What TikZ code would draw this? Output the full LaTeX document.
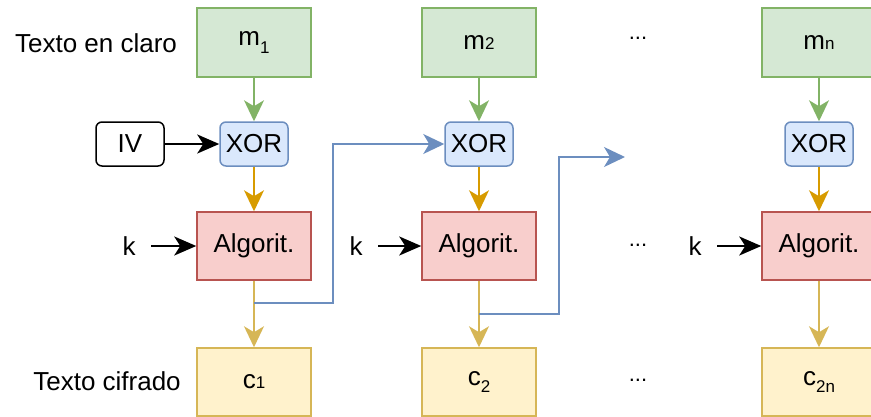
\documentclass[tikz,border=0pt]{standalone}
\usepackage{fontspec}
\setmainfont{Liberation Sans}
\usetikzlibrary{arrows.meta}
\definecolor{greenfill}{HTML}{D5E8D4}
\definecolor{greendraw}{HTML}{82B366}
\definecolor{bluefill}{HTML}{DAE8FC}
\definecolor{bluedraw}{HTML}{6C8EBF}
\definecolor{redfill}{HTML}{F8CECC}
\definecolor{reddraw}{HTML}{B85450}
\definecolor{yellowfill}{HTML}{FFF2CC}
\definecolor{yellowdraw}{HTML}{D6B656}
\definecolor{orangeline}{HTML}{D79B00}
% lowered subscript and small same-line index
\newcommand\lowsub[1]{\raisebox{-0.3em}{\fontsize{17}{20}\selectfont #1}}
\newcommand\smallch[1]{{\fontsize{17}{20}\selectfont #1}}
\begin{document}
\begin{tikzpicture}[x=1pt,y=-1pt,
  font=\fontsize{26}{30}\selectfont,
  box/.style={draw, line width=1.5pt, minimum width=114pt, minimum height=68pt, inner sep=0pt},
  mbox/.style={box, draw=greendraw, fill=greenfill, minimum height=69pt},
  algbox/.style={box, draw=reddraw, fill=redfill},
  cbox/.style={box, draw=yellowdraw, fill=yellowfill},
  smallbox/.style={draw, line width=1.5pt, rounded corners=6pt, minimum width=68pt, minimum height=44pt, inner sep=0pt},
  xorbox/.style={smallbox, draw=bluedraw, fill=bluefill},
  ivbox/.style={smallbox, draw=black, fill=white},
  lbl/.style={inner sep=0pt},
  klbl/.style={inner sep=0pt, minimum width=44pt},
  dotlbl/.style={inner sep=0pt, anchor=base, font=\fontsize{22}{26}\selectfont},
  colarrow/.style={line width=1.6pt, -{Stealth[length=21pt 0,width=20pt 0,inset=6pt 0]}},
  blkarrow/.style={line width=2.2pt, -{Stealth[length=22pt 0,width=19pt 0,inset=6pt 0]}}
]
\useasboundingbox (0,0) rectangle (871,416);
\clip (0,0) rectangle (871,416);

% row labels
\node[lbl] (plain) at (96,43) {Texto en claro};
\node[lbl] (cipher) at (107,381) {Texto cifrado};

% plaintext blocks
\node[mbox] (m1) at (254,42.5) {m\lowsub{1}};
\node[mbox] (m2) at (479,42.5) {m\smallch{2}};
\node[mbox] (mn) at (819,42.5) {m\smallch{n}};

% XOR stages
\node[ivbox] (iv) at (130,144) {IV};
\node[xorbox] (x1) at (254,144) {XOR};
\node[xorbox] (x2) at (479,144) {XOR};
\node[xorbox] (xn) at (819,144) {XOR};

% block cipher
\node[klbl] (k1) at (129,246) {k};
\node[klbl] (k2) at (356,246) {k};
\node[klbl] (kn) at (695,246) {k};
\node[algbox] (a1) at (254,246) {Algorit.};
\node[algbox] (a2) at (479,246) {Algorit.};
\node[algbox] (an) at (819,246) {Algorit.};

% ciphertext blocks
\node[cbox] (c1) at (254,382) {c\smallch{1}};
\node[cbox] (c2) at (479,382) {c\lowsub{2}};
\node[cbox] (cn) at (819,382) {c\lowsub{2n}};

% ellipses
\node[dotlbl] (d1) at (638,39) {...};
\node[dotlbl] (d2) at (638,246) {...};
\node[dotlbl] (d3) at (638,381) {...};

% vertical flow
\foreach \i in {1,2,n}{
  \draw[colarrow, color=greendraw] (m\i) -- (x\i);
  \draw[colarrow, color=orangeline] (x\i) -- (a\i);
  \draw[colarrow, color=yellowdraw] (a\i) -- (c\i);
}

% key and IV inputs
\draw[blkarrow] (iv) -- (x1);
\draw[blkarrow] (k1) -- (a1);
\draw[blkarrow] (k2) -- (a2);
\draw[blkarrow] (kn) -- (an);

% chaining feedback
\coordinate (b1) at (254,303);
\coordinate (b2) at (479,314);
\coordinate (e2) at (625,157);
\draw[colarrow, color=bluedraw] (b1) -- ++(79,0) |- (x2.west);
\draw[colarrow, color=bluedraw] (b2) -- ++(80,0) |- (e2);
\end{tikzpicture}
\end{document}
